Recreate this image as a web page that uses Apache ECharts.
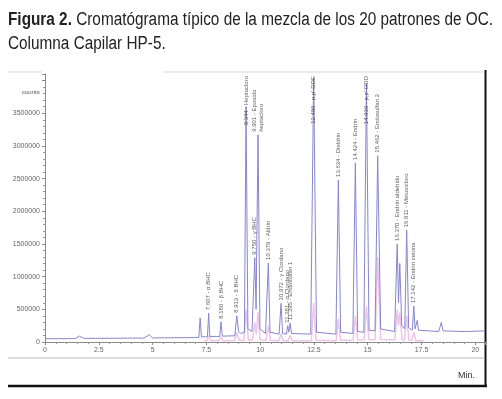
<!DOCTYPE html>
<html>
<head>
<meta charset="utf-8">
<script src="https://cdn.jsdelivr.net/npm/echarts@6/dist/echarts.min.js"></script>
<style>
	html,body{margin:0;padding:0;background:#fff;}
	#main{width:502px;height:399px;}
</style>
</head>
<body>
<div id="main"></div>
<script>
// picos etiquetados (tiempo de retencion, altura en counts, nombre)
var peakTimes = [7.607, 8.180, 8.913, 9.344, 9.750, 9.901, 10.379, 10.972, 11.281, 11.395, 12.486, 13.634, 14.424, 14.939, 15.462, 16.370, 16.811, 17.142];
var peakHeights = [440000, 310000, 400000, 3600000, 1290000, 3170000, 1210000, 590000, 250000, 290000, 4040000, 2480000, 2740000, 3960000, 2850000, 1500000, 1710000, 550000];
var peakNames = ['7.607 - α BHC', '8.180 - β BHC', '8.913 - δ BHC', '9.344 - Heptacloro', '9.750 - γ BHC', '9.901 - Epoxido\nheptacloro', '10.379 - Aldrin', '10.972 - γ Clordano', '11.281 - α Clordano', '11.395 - Endosulfan 1', '12.486 - p,p\'-DDE', '13.634 - Dieldrin', '14.424 - Endrin', '14.939 - p,p\'-DDD', '15.462 - Endosulfan 2', '16.370 - Endrin aldehido', '16.811 - Metoxicloro', '17.142 - Endrin cetona'];

// traza principal (min, counts)
var traceA = [
	[0, 50000], [1.4, 52000], [1.6, 90000], [1.8, 55000], [4.6, 60000], [4.85, 110000], [5.0, 62000], [6.0, 65000],
	[7.0, 68000], [7.15, 72000], [7.21, 370000], [7.27, 78000], [7.55, 80000], [7.607, 440000], [7.66, 85000],
	[8.12, 85000], [8.18, 310000], [8.24, 90000], [8.82, 95000], [8.913, 400000], [9.0, 160000], [9.1, 130000],
	[9.27, 150000], [9.344, 3600000], [9.43, 200000], [9.62, 160000], [9.75, 1290000], [9.81, 500000],
	[9.901, 3170000], [9.99, 200000], [10.25, 130000], [10.379, 1210000], [10.46, 150000], [10.88, 120000],
	[10.972, 590000], [11.04, 130000], [11.22, 120000], [11.281, 250000], [11.33, 150000], [11.395, 290000],
	[11.46, 130000], [12.35, 120000], [12.486, 4040000], [12.62, 150000], [13.52, 120000], [13.634, 2480000],
	[13.74, 150000], [14.31, 130000], [14.424, 2740000], [14.53, 160000], [14.82, 150000], [14.939, 3960000],
	[15.06, 180000], [15.34, 170000], [15.462, 2850000], [15.6, 200000], [16.25, 160000], [16.37, 1500000],
	[16.43, 600000], [16.49, 1200000], [16.58, 250000], [16.72, 200000], [16.811, 1710000], [16.9, 220000],
	[17.07, 180000], [17.142, 550000], [17.2, 200000], [17.25, 190000], [17.3, 330000], [17.36, 180000],
	[18.3, 160000], [18.42, 300000], [18.5, 170000], [19.5, 160000], [20.45, 170000]
];
// segunda traza (rosa)
var traceB = [
	[7.4, 20000], [7.52, 20000], [7.607, 100000], [7.7, 20000], [8.08, 20000], [8.18, 80000], [8.28, 20000],
	[8.8, 20000], [8.913, 150000], [9.02, 25000], [9.24, 25000], [9.344, 500000], [9.45, 30000], [9.64, 30000],
	[9.75, 300000], [9.82, 120000], [9.901, 450000], [10.0, 30000], [10.27, 25000], [10.379, 250000], [10.48, 25000],
	[10.87, 20000], [10.972, 120000], [11.07, 20000], [11.3, 20000], [11.395, 100000], [11.5, 20000], [12.38, 20000],
	[12.486, 600000], [12.6, 25000], [13.53, 20000], [13.634, 350000], [13.74, 25000], [14.32, 25000], [14.424, 400000],
	[14.53, 30000], [14.83, 30000], [14.939, 550000], [15.05, 35000], [15.34, 35000], [15.462, 1300000], [15.6, 40000],
	[16.26, 35000], [16.37, 500000], [16.43, 250000], [16.49, 450000], [16.6, 35000], [16.71, 30000], [16.811, 400000],
	[16.91, 30000], [17.04, 25000], [17.142, 150000], [17.24, 20000], [17.6, 20000]
];

var yMax = 4100000;
var pxPerCount = 268 / yMax;

function labelData(){
	var out = [];
	peakTimes.forEach(function(t, i){
		var lines = peakNames[i].split('\n');
		var longest = 0;
		lines.forEach(function(l){ if(l.length > longest) longest = l.length; });
		var len = (longest * 3.3 + 4) / pxPerCount;
		if(peakHeights[i] + len > yMax){
			out.push({value:[t, yMax - 30000], label:{align:'right', distance:0}});
		}else{
			out.push({value:[t, peakHeights[i]], label:{align:'left'}});
		}
	});
	return out;
}

var myChart = echarts.init(document.getElementById('main'));
var option = {
	animation:false,
	grid:{left:45, right:17, top:74, bottom:57},
	xAxis:{
		type:'value',
		min:0,
		max:20.45,
		interval:2.5,
		axisLine:{lineStyle:{color:'#8a8a8a'}},
		axisTick:{length:3, lineStyle:{color:'#8a8a8a'}},
		minorTick:{show:true, splitNumber:5, length:2, lineStyle:{color:'#9a9a9a'}},
		splitLine:{show:false},
		axisLabel:{showMaxLabel:false, fontSize:7, color:'#666', margin:5, fontFamily:'Liberation Sans'}
	},
	yAxis:{
		type:'value',
		min:0,
		max:yMax,
		interval:500000,
		axisLine:{show:true, lineStyle:{color:'#8a8a8a'}},
		axisTick:{show:true, length:3, lineStyle:{color:'#8a8a8a'}},
		minorTick:{show:true, splitNumber:5, length:2, lineStyle:{color:'#9a9a9a'}},
		splitLine:{show:false},
		axisLabel:{
			showMaxLabel:false, fontSize:7, color:'#666', margin:5, fontFamily:'Liberation Sans',
			formatter:function(v){ return v > 3600000 ? '' : String(v); }
		}
	},
	series:[
		{
			name:'blanco',
			type:'line',
			data:traceB,
			showSymbol:false,
			lineStyle:{width:1.5, color:'#efc4e9'},
			z:1
		},
		{
			name:'patrones',
			type:'line',
			data:traceA,
			showSymbol:false,
			lineStyle:{width:1, color:'#8686cf'},
			z:2
		},
		{
			name:'etiquetas',
			type:'scatter',
			data:labelData(),
			symbolSize:0,
			z:3,
			label:{
				show:true,
				position:'top',
				distance:3,
				rotate:90,
				verticalAlign:'middle',
				fontSize:6,
				lineHeight:7,
				color:'#333',
				fontFamily:'Liberation Sans',
				formatter:function(p){ return peakNames[p.dataIndex]; }
			}
		}
	],
	graphic:[
		// titulo, comprimido en horizontal como una fuente estrecha
		{
			type:'text', x:8, y:8, scaleX:0.852,
			style:{
				text:'{b|Figura 2.} Cromatógrama típico de la mezcla de los 20 patrones de OC.\nColumna Capilar HP-5.',
				font:'18px "Liberation Sans"',
				fill:'#222',
				lineHeight:24,
				rich:{
					b:{fontFamily:'Liberation Sans', fontSize:18, fontWeight:'bold', fill:'#222', lineHeight:24}
				}
			}
		},
		{type:'line', shape:{x1:8, y1:72, x2:42, y2:72}, style:{stroke:'#d8d8d8', lineWidth:1}},
		{type:'line', shape:{x1:163, y1:72, x2:483, y2:72}, style:{stroke:'#d8d8d8', lineWidth:1}},
		{type:'line', shape:{x1:485.5, y1:70, x2:485.5, y2:387}, style:{stroke:'#111', lineWidth:2}},
		{type:'line', shape:{x1:8, y1:386, x2:487, y2:386}, style:{stroke:'#111', lineWidth:2.5}},
		{type:'line', shape:{x1:8, y1:358, x2:485, y2:358}, style:{stroke:'#bbb', lineWidth:1}},
		{type:'text', left:458, top:371, style:{text:'Min.', fontSize:9, fill:'#333', fontFamily:'Liberation Sans'}},
		{type:'text', left:22, top:89, style:{text:'counts', fontSize:6, fill:'#555', fontFamily:'Liberation Sans'}}
	]
};
myChart.setOption(option);
</script>
</body>
</html>
